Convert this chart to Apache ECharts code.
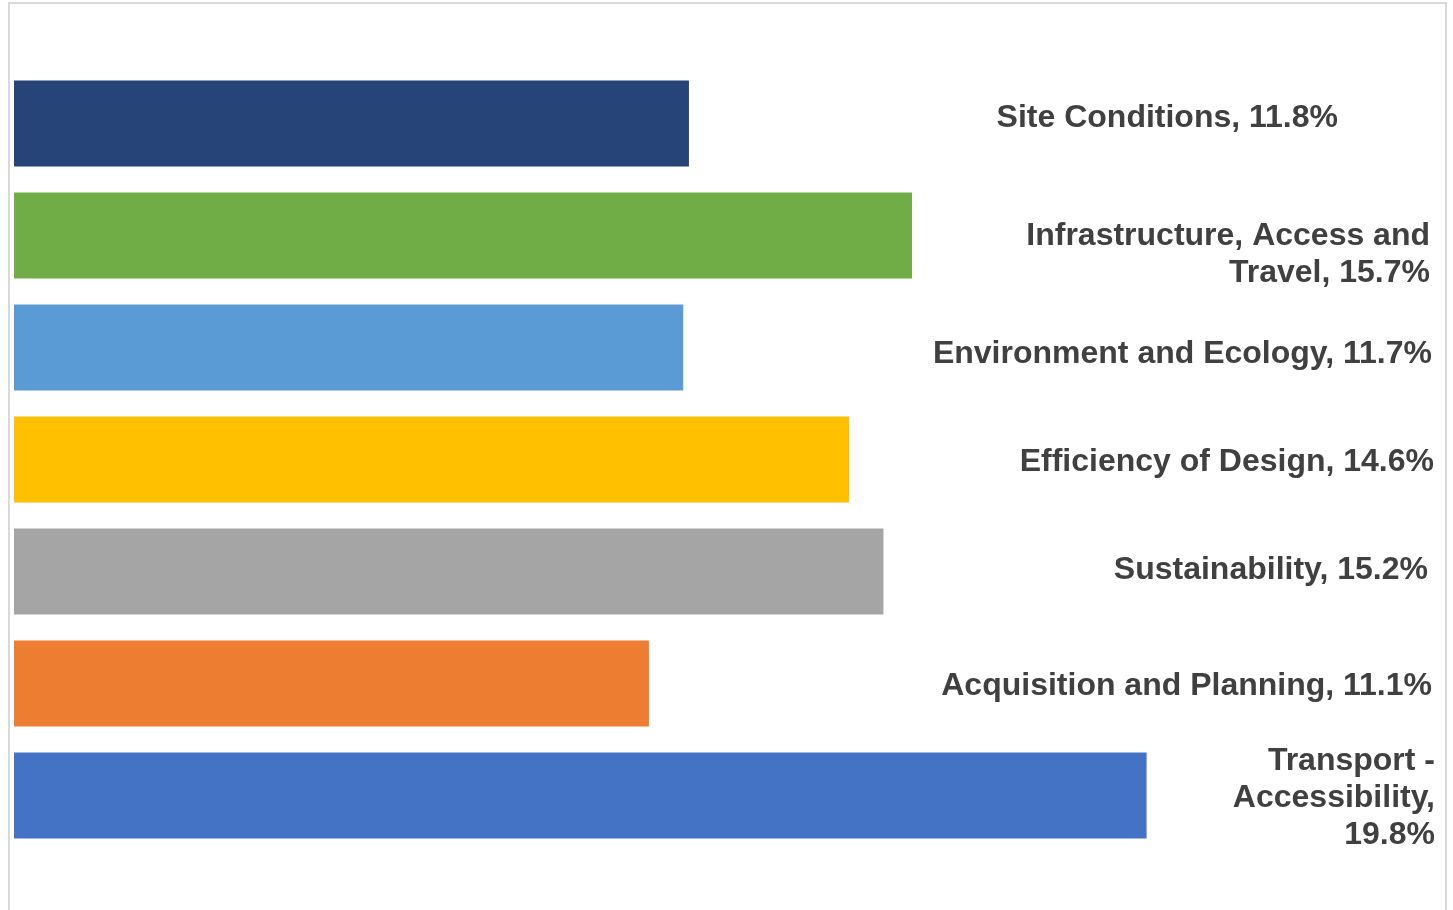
<!DOCTYPE html>
<html>
<head>
<meta charset="utf-8">
<script src="https://cdn.jsdelivr.net/npm/echarts@6/dist/echarts.min.js"></script>
<style>
html,body{margin:0;padding:0;background:#fff;}
#chart{position:absolute;left:0;top:0;width:1453px;height:910px;}
#frame{position:absolute;left:8px;top:2px;width:1435px;height:930px;border:2px solid #d9d9d9;pointer-events:none;}
</style>
</head>
<body>
<div id="chart"></div>
<div id="frame"></div>
<script>
const categories = [
  'Site Conditions',
  'Infrastructure, Access and\nTravel',
  'Environment and Ecology',
  'Efficiency of Design',
  'Sustainability',
  'Acquisition and Planning',
  'Transport -\nAccessibility,'
];
const values = [11.8, 15.7, 11.7, 14.6, 15.2, 11.1, 19.8];
const labelTexts = [
  'Site Conditions, 11.8%',
  'Infrastructure, Access and\nTravel, 15.7%',
  'Environment and Ecology, 11.7%',
  'Efficiency of Design, 14.6%',
  'Sustainability, 15.2%',
  'Acquisition and Planning, 11.1%',
  'Transport -\nAccessibility,\n19.8%'
];
const colors = ['#264478', '#70AD47', '#5B9BD5', '#FFC000', '#A5A5A5', '#ED7D31', '#4472C4'];

// label styling: right edge x and vertical shift (pixels)
const labelRight = [1338, 1430, 1432, 1434, 1428, 1432, 1435];
const labelShift = [-5, 19, 7, 3, -1, 3, 3];
const gridLeft = 14;

const chart = echarts.init(document.getElementById('chart'));
chart.setOption({
  animation: false,
  grid: { left: gridLeft, right: 9, top: 67.5, height: 784, containLabel: false },
  xAxis: { type: 'value', min: 0, max: 25, show: false },
  yAxis: { type: 'category', data: categories, inverse: true, show: false },
  series: [{
    type: 'bar',
    barCategoryGap: '23%',
    data: values.map((v, i) => ({
      value: v,
      itemStyle: { color: colors[i] },
      label: {
        show: true,
        position: 'insideLeft',
        distance: 0,
        align: 'right',
        verticalAlign: 'middle',
        offset: [labelRight[i] - gridLeft, labelShift[i]],
        formatter: () => labelTexts[i],
        fontFamily: '"Liberation Sans", Arial, sans-serif',
        fontWeight: 'bold',
        fontSize: 32,
        lineHeight: 37,
        color: '#404040'
      }
    }))
  }]
});
</script>
</body>
</html>
